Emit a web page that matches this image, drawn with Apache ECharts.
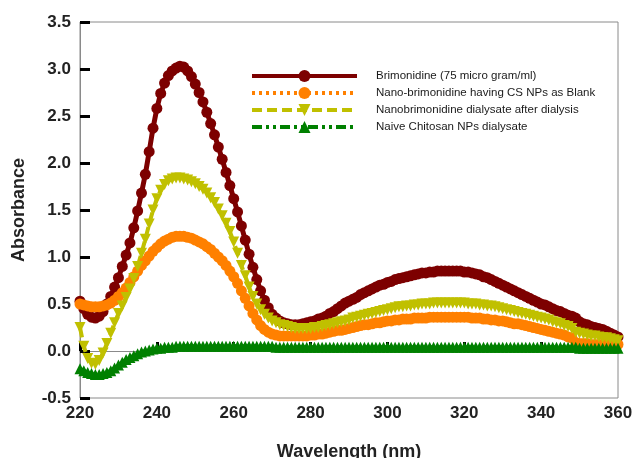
<!DOCTYPE html>
<html>
<head>
<meta charset="utf-8">
<script src="https://cdn.jsdelivr.net/npm/echarts@6/dist/echarts.min.js"></script>
<style>
  html, body { margin: 0; padding: 0; background: #fff; }
  #main { width: 634px; height: 458px; }
</style>
</head>
<body>
<div id="main"></div>
<script>
// wavelength (nm), 1 nm steps
var wavelength = [220,221,222,223,224,225,226,227,228,229,230,231,232,233,234,235,236,237,238,239,
  240,241,242,243,244,245,246,247,248,249,250,251,252,253,254,255,256,257,258,259,
  260,261,262,263,264,265,266,267,268,269,270,271,272,273,274,275,276,277,278,279,
  280,281,282,283,284,285,286,287,288,289,290,291,292,293,294,295,296,297,298,299,
  300,301,302,303,304,305,306,307,308,309,310,311,312,313,314,315,316,317,318,319,
  320,321,322,323,324,325,326,327,328,329,330,331,332,333,334,335,336,337,338,339,
  340,341,342,343,344,345,346,347,348,349,350,351,352,353,354,355,356,357,358,359,360];

var brimonidine = [0.53,0.45,0.39,0.36,0.35,0.37,0.42,0.50,0.58,0.68,0.78,0.90,1.02,1.15,1.31,1.49,1.68,1.88,2.12,2.37,
  2.58,2.74,2.85,2.93,2.98,3.01,3.03,3.02,2.98,2.92,2.84,2.75,2.65,2.54,2.42,2.30,2.17,2.04,1.90,1.76,
  1.62,1.48,1.33,1.18,1.03,0.89,0.76,0.64,0.54,0.46,0.39,0.35,0.32,0.30,0.29,0.28,0.28,0.28,0.29,0.30,
  0.31,0.32,0.34,0.35,0.37,0.40,0.42,0.45,0.48,0.51,0.53,0.55,0.57,0.60,0.62,0.64,0.66,0.68,0.70,0.71,
  0.73,0.74,0.76,0.77,0.78,0.79,0.80,0.81,0.82,0.83,0.83,0.84,0.84,0.85,0.85,0.85,0.85,0.85,0.85,0.85,
  0.84,0.84,0.83,0.82,0.81,0.79,0.78,0.76,0.74,0.72,0.70,0.68,0.66,0.64,0.62,0.60,0.58,0.56,0.54,0.52,
  0.50,0.49,0.47,0.45,0.43,0.42,0.40,0.38,0.37,0.35,0.31,0.29,0.28,0.26,0.25,0.24,0.23,0.21,0.19,0.17,0.15];

var nanoBlank = [0.50,0.49,0.48,0.47,0.47,0.47,0.48,0.49,0.51,0.54,0.58,0.62,0.67,0.73,0.79,0.85,0.91,0.96,1.01,1.06,
  1.10,1.14,1.17,1.19,1.21,1.22,1.22,1.22,1.21,1.20,1.18,1.16,1.14,1.11,1.08,1.04,1.00,0.96,0.91,0.85,
  0.79,0.72,0.64,0.56,0.48,0.40,0.33,0.27,0.23,0.20,0.18,0.17,0.16,0.16,0.16,0.16,0.16,0.16,0.16,0.16,
  0.17,0.17,0.18,0.18,0.19,0.20,0.21,0.22,0.22,0.23,0.24,0.25,0.26,0.27,0.28,0.28,0.29,0.30,0.30,0.31,
  0.32,0.32,0.33,0.33,0.34,0.34,0.34,0.35,0.35,0.35,0.35,0.36,0.36,0.36,0.36,0.36,0.36,0.36,0.36,0.36,
  0.36,0.36,0.35,0.35,0.35,0.34,0.34,0.33,0.33,0.32,0.32,0.31,0.30,0.29,0.29,0.28,0.27,0.26,0.25,0.24,
  0.23,0.22,0.21,0.20,0.19,0.18,0.17,0.15,0.14,0.09,0.08,0.08,0.08,0.07,0.07,0.07,0.07,0.07,0.07,0.07,0.07];

var dialysate = [0.25,0.05,-0.08,-0.13,-0.14,-0.10,-0.02,0.08,0.19,0.30,0.40,0.48,0.57,0.66,0.77,0.90,1.04,1.19,1.35,1.50,
  1.62,1.71,1.77,1.81,1.83,1.84,1.84,1.83,1.82,1.80,1.78,1.75,1.72,1.68,1.63,1.58,1.51,1.44,1.36,1.27,
  1.16,1.04,0.91,0.80,0.68,0.58,0.50,0.44,0.39,0.35,0.32,0.30,0.28,0.27,0.26,0.25,0.24,0.24,0.24,0.24,
  0.24,0.25,0.25,0.26,0.27,0.28,0.29,0.30,0.31,0.32,0.33,0.35,0.36,0.37,0.38,0.39,0.40,0.41,0.42,0.43,
  0.44,0.45,0.46,0.47,0.47,0.48,0.48,0.49,0.49,0.50,0.50,0.50,0.51,0.51,0.51,0.51,0.51,0.51,0.51,0.51,
  0.51,0.50,0.50,0.50,0.49,0.49,0.48,0.48,0.47,0.46,0.45,0.44,0.43,0.42,0.41,0.40,0.39,0.38,0.37,0.36,
  0.35,0.34,0.33,0.31,0.30,0.29,0.27,0.26,0.24,0.20,0.19,0.18,0.17,0.16,0.16,0.15,0.14,0.14,0.13,0.12,0.11];

var chitosan = [-0.19,-0.21,-0.23,-0.24,-0.25,-0.25,-0.24,-0.23,-0.21,-0.18,-0.15,-0.12,-0.09,-0.07,-0.05,-0.03,-0.01,0.00,0.01,0.02,
  0.03,0.03,0.04,0.04,0.04,0.05,0.05,0.05,0.05,0.05,0.05,0.05,0.05,0.05,0.05,0.05,0.05,0.05,0.05,0.05,
  0.05,0.05,0.05,0.05,0.05,0.05,0.05,0.05,0.05,0.05,0.05,0.04,0.04,0.04,0.04,0.04,0.04,0.04,0.04,0.04,
  0.04,0.04,0.04,0.04,0.04,0.04,0.04,0.04,0.04,0.04,0.04,0.04,0.04,0.04,0.04,0.04,0.04,0.04,0.04,0.04,
  0.04,0.04,0.04,0.04,0.04,0.04,0.04,0.04,0.04,0.04,0.04,0.04,0.04,0.04,0.04,0.04,0.04,0.04,0.04,0.04,
  0.04,0.04,0.04,0.04,0.04,0.04,0.04,0.04,0.04,0.04,0.04,0.04,0.04,0.04,0.04,0.04,0.04,0.04,0.04,0.04,
  0.04,0.04,0.04,0.04,0.04,0.04,0.04,0.04,0.04,0.04,0.03,0.03,0.03,0.03,0.03,0.03,0.03,0.03,0.03,0.03,0.03];

var seriesNames = [
  'Brimonidine (75 micro gram/ml)',
  'Nano-brimonidine having CS NPs as Blank',
  'Nanobrimonidine dialysate after dialysis',
  'Naive Chitosan NPs dialysate'
];

function pairs(vals) {
  return wavelength.map(function (w, i) { return [w, vals[i]]; });
}

var font = 'Arial, "Liberation Sans", sans-serif';
var myChart = echarts.init(document.getElementById('main'));

var option = {
  backgroundColor: '#fff',
  animation: false,
  grid: {
    left: 80, right: 16, top: 22, bottom: 60,
    outerBoundsMode: 'none',
    show: true, borderColor: '#8a8a8a', borderWidth: 1
  },
  legend: {
    orient: 'vertical',
    left: 245, top: 65,
    itemWidth: 105, itemHeight: 15, itemGap: 5,
    data: seriesNames,
    lineStyle: { width: 4 },
    textStyle: { fontFamily: font, fontSize: 11.5, color: '#1a1a1a', padding: [0, 0, 0, 14] }
  },
  xAxis: {
    type: 'value',
    min: 220, max: 360, interval: 20,
    name: 'Wavelength (nm)',
    nameLocation: 'middle', nameGap: 45,
    nameTextStyle: { fontFamily: font, fontSize: 18, fontWeight: 'bold', color: '#222' },
    axisLine: { lineStyle: { color: '#8a8a8a', width: 1 } },
    axisTick: { inside: true, length: 9, lineStyle: { color: '#000', width: 3 } },
    axisLabel: { margin: 7, fontFamily: font, fontSize: 17, fontWeight: 'bold', color: '#222' },
    splitLine: { show: false }
  },
  yAxis: {
    type: 'value',
    min: -0.5, max: 3.5, interval: 0.5,
    name: 'Absorbance',
    nameLocation: 'middle', nameGap: 52,
    nameTextStyle: { fontFamily: font, fontSize: 18, fontWeight: 'bold', color: '#222' },
    axisLine: { show: true, lineStyle: { color: '#8a8a8a', width: 1 } },
    axisTick: { show: true, inside: true, length: 10, lineStyle: { color: '#000', width: 3 } },
    axisLabel: {
      margin: 9, fontFamily: font, fontSize: 17, fontWeight: 'bold', color: '#222',
      formatter: function (v) { return v.toFixed(1); }
    },
    splitLine: { show: false }
  },
  series: [
    {
      name: seriesNames[0], type: 'line', data: pairs(brimonidine),
      symbol: 'circle', symbolSize: 11,
      lineStyle: { color: '#7d0000', width: 5, type: 'solid' },
      itemStyle: { color: '#7d0000' }
    },
    {
      name: seriesNames[1], type: 'line', data: pairs(nanoBlank),
      symbol: 'circle', symbolSize: 11,
      lineStyle: { color: '#ff8000', width: 4, type: [3, 4] },
      itemStyle: { color: '#ff8000' }
    },
    {
      name: seriesNames[2], type: 'line', data: pairs(dialysate),
      symbol: 'triangle', symbolSize: 11, symbolRotate: 180,
      lineStyle: { color: '#c0c000', width: 4, type: [10, 5] },
      itemStyle: { color: '#c0c000' }
    },
    {
      name: seriesNames[3], type: 'line', data: pairs(chitosan),
      symbol: 'triangle', symbolSize: 11,
      lineStyle: { color: '#008000', width: 4, type: [10, 4, 3, 4, 3, 4] },
      itemStyle: { color: '#008000' }
    }
  ]
};
myChart.setOption(option);
</script>
</body>
</html>
